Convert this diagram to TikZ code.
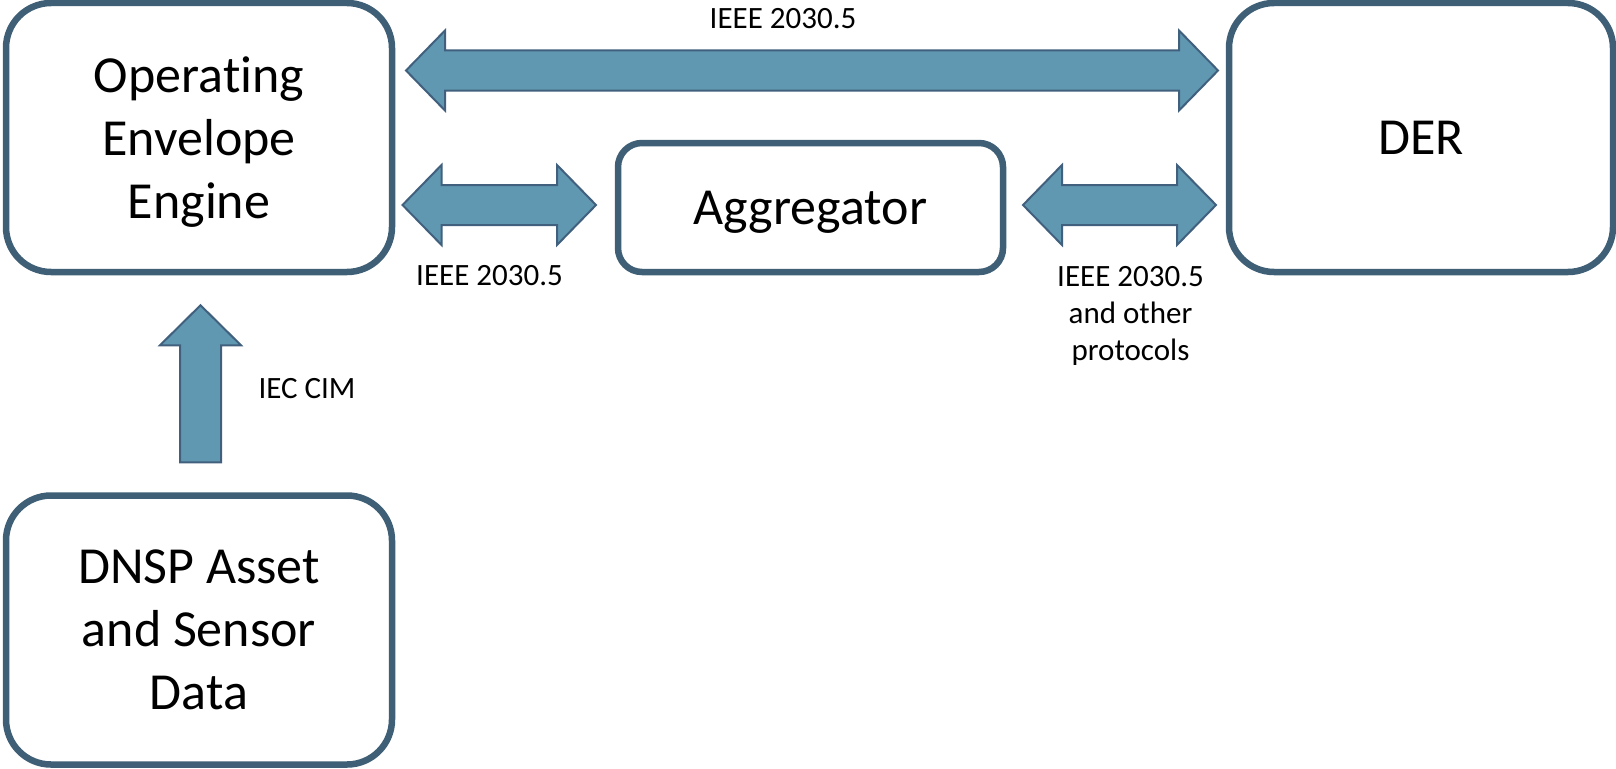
\documentclass[tikz,border=0pt]{standalone}
\usepackage{fontspec}
\setmainfont{Carlito}[Ligatures=NoCommon]
\usetikzlibrary{calc}
\definecolor{boxline}{HTML}{3E5F75}
\definecolor{arrowfill}{HTML}{6098B2}
\definecolor{arrowline}{HTML}{41607D}
% horizontal double block arrow between two tip coordinates on one level
\newcommand\hblockarrow[2]{%
  \draw[blockarrow] (#1) -- ++(39,-40) -- ++(0,20) -- ($(#2)+(-39,-20)$)
    -- ++(0,-20) -- (#2) -- ++(-39,40) -- ++(0,-20) -- ($(#1)+(39,20)$)
    -- ++(0,20) -- cycle;}
\begin{document}
\begin{tikzpicture}[x=1pt,y=-1pt,
  box/.style={draw=boxline, line width=6.5pt, rounded corners=45pt, fill=white,
    align=center, font=\fontsize{52}{63}\selectfont, inner sep=0pt, text depth=0pt},
  blockarrow/.style={draw=arrowline, line width=2pt, fill=arrowfill, line join=miter},
  lbl/.style={font=\fontsize{31}{37}\selectfont, align=center, inner sep=0pt}]
\useasboundingbox (0,0) rectangle (1616,768);

% components
\node[box, minimum width=386pt, minimum height=269pt] (oee) at (199,137.5)
  {Operating\\Envelope\\Engine};
\node[box, minimum width=384pt, minimum height=269pt] (der) at (1421,137.5) {DER};
\node[box, text depth=-4pt, rounded corners=24pt, minimum width=385pt, minimum height=129pt] (agg)
  at (810.5,207.5) {Aggregator};
\node[box, text depth=-10pt, minimum width=386pt, minimum height=269pt] (dnsp) at (199,630)
  {DNSP Asset\\and Sensor\\Data};

% arrow end points
\coordinate (topL) at (406,70.5);
\coordinate (topR) at (1218,70.5);
\coordinate (midL1) at (402.5,205);
\coordinate (midR1) at (596,205);
\coordinate (midL2) at (1023,205);
\coordinate (midR2) at (1216,205);
\coordinate (upTip) at ($(oee.south)+(1.5,30)$);
\coordinate (upBase) at ($(dnsp.north)+(1.5,-30)$);

% block arrows
\hblockarrow{topL}{topR}
\hblockarrow{midL1}{midR1}
\hblockarrow{midL2}{midR2}
\draw[blockarrow] (upTip) -- ++(40.5,40) -- ++(-20,0) -- ($(upBase)+(20.5,0)$)
  -- ++(-41,0) -- ($(upTip)+(-20.5,40)$) -- ++(-20,0) -- cycle;

% protocol labels
\node[lbl] (ltop) at (783,18.5) {IEEE 2030.5};
\node[lbl] (lmid) at (489.5,276) {IEEE 2030.5};
\node[lbl, anchor=north] (lright) at (1130.5,266) {IEEE 2030.5\\and other\\protocols};
\node[lbl] (lcim) at (307,388.5) {IEC CIM};
\end{tikzpicture}
\end{document}
